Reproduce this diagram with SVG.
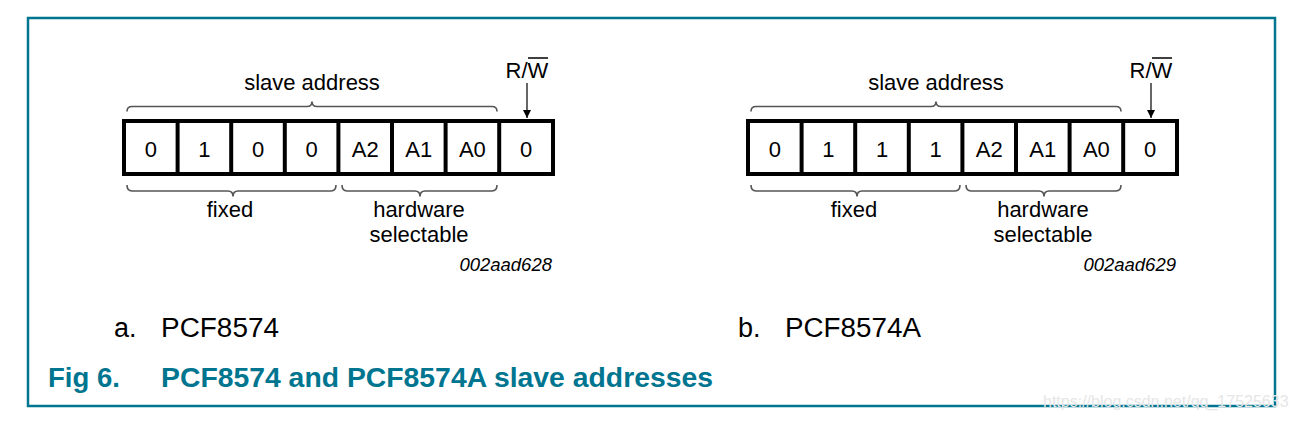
<svg xmlns="http://www.w3.org/2000/svg" width="1296" height="421" viewBox="0 0 1296 421">
<defs>
<style>
.t{font-family:"Liberation Sans",Arial,sans-serif;font-size:22px;fill:#000;text-anchor:middle}
.cell{fill:#fff;stroke:#000;stroke-width:4}
.div{stroke:#000;stroke-width:4}
.brace{fill:none;stroke:#555;stroke-width:1.6}
.code{font-family:"Liberation Sans",Arial,sans-serif;font-size:18.5px;font-style:italic;text-anchor:end}
.cap{font-family:"Liberation Sans",Arial,sans-serif;font-size:27px;fill:#000}
.fig{font-family:"Liberation Sans",Arial,sans-serif;font-size:27.5px;font-weight:bold;fill:#007590}
</style>
<marker id="ah" viewBox="0 0 10 10" refX="10" refY="5" markerWidth="8" markerHeight="8" markerUnits="userSpaceOnUse" orient="auto">
<path d="M0,0 L10,5 L0,10 z" fill="#000"/>
</marker>
</defs>
<rect x="0" y="0" width="1296" height="421" fill="#fff"/>
<rect id="frame" x="28" y="18" width="1247" height="388" fill="none" stroke="#007590" stroke-width="2.5"/>

<g id="diagram-a">
<g id="a-register">
<rect class="cell" x="124" y="121" width="429" height="53"/>
<line class="div" x1="177.6" y1="121" x2="177.6" y2="174"/>
<line class="div" x1="231.2" y1="121" x2="231.2" y2="174"/>
<line class="div" x1="284.8" y1="121" x2="284.8" y2="174"/>
<line class="div" x1="338.4" y1="121" x2="338.4" y2="174"/>
<line class="div" x1="392" y1="121" x2="392" y2="174"/>
<line class="div" x1="445.6" y1="121" x2="445.6" y2="174"/>
<line class="div" x1="499.2" y1="121" x2="499.2" y2="174"/>
<text class="t" x="150.8" y="157">0</text>
<text class="t" x="204.4" y="157">1</text>
<text class="t" x="258" y="157">0</text>
<text class="t" x="311.6" y="157">0</text>
<text class="t" x="365.2" y="157">A2</text>
<text class="t" x="418.8" y="157">A1</text>
<text class="t" x="472.4" y="157">A0</text>
<text class="t" x="526" y="157">0</text>
</g>
<g id="a-slave-address">
<path class="brace" d="M127,111.5 Q127,106.5 132,106.5 L307,106.5 Q312,106.5 312,101.5 Q312,106.5 317,106.5 L492,106.5 Q497,106.5 497,111.5"/>
<text class="t" x="312" y="90">slave address</text>
</g>
<g id="a-rw">
<text class="t" x="527" y="78" font-size="21">R/W</text>
<line x1="528" y1="58" x2="548" y2="58" stroke="#000" stroke-width="1.5"/>
</g>
<g id="a-fixed">
<path class="brace" d="M127,185 Q127,191 132,191 L228,191 Q233,191 233,196.5 Q233,191 238,191 L331,191 Q336,191 336,185"/>
<text class="t" x="230" y="217">fixed</text>
</g>
<g id="a-hw">
<path class="brace" d="M342,185 Q342,191 347,191 L415,191 Q420,191 420,196.5 Q420,191 425,191 L492,191 Q497,191 497,185"/>
<text class="t" x="419" y="217">hardware</text>
<text class="t" x="419" y="241.5">selectable</text>
</g>
<text class="code" x="552" y="271">002aad628</text>
<text class="cap" x="114" y="337">a.</text>
<text class="cap" x="161" y="337" textLength="118" lengthAdjust="spacingAndGlyphs">PCF8574</text>
</g>

<g id="diagram-b">
<g id="b-register">
<rect class="cell" x="748" y="121" width="429" height="53"/>
<line class="div" x1="801.6" y1="121" x2="801.6" y2="174"/>
<line class="div" x1="855.2" y1="121" x2="855.2" y2="174"/>
<line class="div" x1="908.8" y1="121" x2="908.8" y2="174"/>
<line class="div" x1="962.4" y1="121" x2="962.4" y2="174"/>
<line class="div" x1="1016" y1="121" x2="1016" y2="174"/>
<line class="div" x1="1069.6" y1="121" x2="1069.6" y2="174"/>
<line class="div" x1="1123.2" y1="121" x2="1123.2" y2="174"/>
<text class="t" x="774.8" y="157">0</text>
<text class="t" x="828.4" y="157">1</text>
<text class="t" x="882" y="157">1</text>
<text class="t" x="935.6" y="157">1</text>
<text class="t" x="989.2" y="157">A2</text>
<text class="t" x="1042.8" y="157">A1</text>
<text class="t" x="1096.4" y="157">A0</text>
<text class="t" x="1150" y="157">0</text>
</g>
<g id="b-slave-address">
<path class="brace" d="M751,111.5 Q751,106.5 756,106.5 L931,106.5 Q936,106.5 936,101.5 Q936,106.5 941,106.5 L1116,106.5 Q1121,106.5 1121,111.5"/>
<text class="t" x="936" y="90">slave address</text>
</g>
<g id="b-rw">
<text class="t" x="1151" y="78" font-size="21">R/W</text>
<line x1="1152" y1="58" x2="1172" y2="58" stroke="#000" stroke-width="1.5"/>
</g>
<g id="b-fixed">
<path class="brace" d="M751,185 Q751,191 756,191 L852,191 Q857,191 857,196.5 Q857,191 862,191 L955,191 Q960,191 960,185"/>
<text class="t" x="854" y="217">fixed</text>
</g>
<g id="b-hw">
<path class="brace" d="M966,185 Q966,191 971,191 L1039,191 Q1044,191 1044,196.5 Q1044,191 1049,191 L1116,191 Q1121,191 1121,185"/>
<text class="t" x="1043" y="217">hardware</text>
<text class="t" x="1043" y="241.5">selectable</text>
</g>
<text class="code" x="1176" y="271">002aad629</text>
<text class="cap" x="738" y="337">b.</text>
<text class="cap" x="785" y="337" textLength="136" lengthAdjust="spacingAndGlyphs">PCF8574A</text>
</g>

<g id="connectors">
<line x1="527" y1="83" x2="527" y2="118" stroke="#000" stroke-width="1.2" marker-end="url(#ah)"/>
<line x1="1151" y1="83" x2="1151" y2="118" stroke="#000" stroke-width="1.2" marker-end="url(#ah)"/>
</g>

<text class="fig" x="48" y="387">Fig 6.</text>
<text class="fig" x="161" y="387" textLength="552" lengthAdjust="spacingAndGlyphs">PCF8574 and PCF8574A slave addresses</text>
<text x="1043" y="407" font-family="Liberation Sans,Arial,sans-serif" font-size="16" fill="#e6e6e6">https://blog.csdn.net/qq_17525633</text>
</svg>
